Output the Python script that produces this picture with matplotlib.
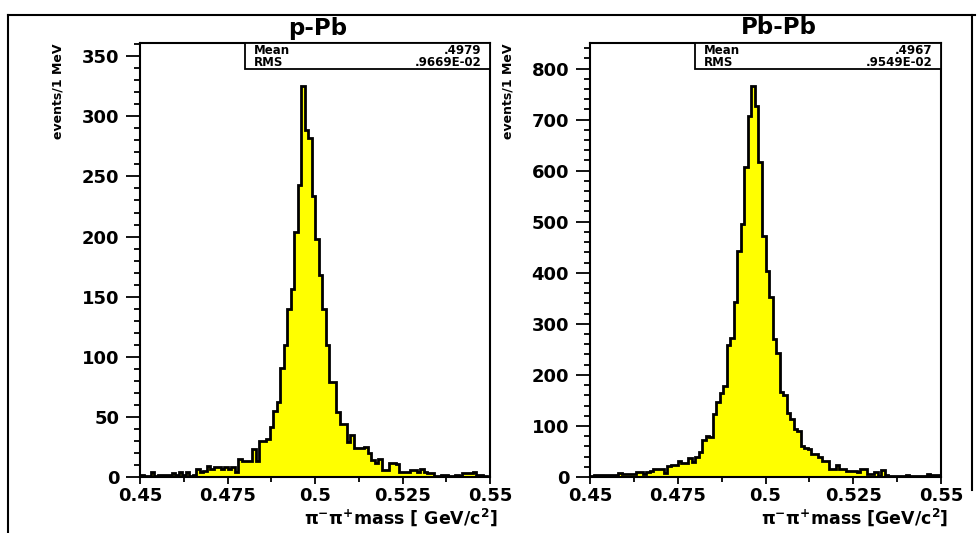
import numpy as np
import matplotlib.pyplot as plt
from matplotlib.ticker import MultipleLocator, FixedLocator, FixedFormatter
from matplotlib.patches import Rectangle
from matplotlib.lines import Line2D


#----- Datos -----

masa_min = 0.45
masa_max = 0.55
num_bins = 100   # 1 MeV por bin

cuentas_pPb = [
    2, 1, 1, 4, 1, 2, 2, 2, 2, 3,
    2, 4, 2, 4, 1, 2, 7, 4, 5, 9,
    7, 8, 8, 7, 8, 7, 8, 4, 15, 13,
    13, 13, 23, 13, 30, 30, 32, 42, 55, 62,
    91, 110, 140, 156, 204, 243, 325, 289, 282, 234,
    198, 168, 140, 110, 79, 79, 54, 44, 44, 29,
    35, 24, 24, 24, 25, 20, 14, 12, 15, 6,
    6, 12, 12, 11, 4, 4, 4, 6, 6, 4,
    7, 4, 3, 3, 1, 1, 2, 2, 1, 1,
    2, 1, 3, 3, 3, 4, 2, 2, 1, 0,
]

cuentas_PbPb = [
    1, 4, 4, 4, 3, 4, 4, 4, 7, 5,
    5, 5, 5, 10, 10, 6, 10, 12, 16, 15,
    15, 7, 22, 24, 24, 31, 28, 28, 37, 30,
    39, 49, 73, 80, 79, 123, 146, 164, 179, 259,
    272, 342, 443, 496, 608, 707, 766, 726, 617, 472,
    403, 352, 270, 243, 166, 160, 125, 113, 94, 90,
    61, 57, 55, 46, 46, 40, 31, 31, 15, 15,
    23, 15, 15, 12, 12, 11, 10, 15, 15, 6,
    6, 10, 2, 14, 4, 2, 2, 2, 2, 2,
    4, 2, 2, 2, 2, 2, 6, 4, 4, 4,
]

titulos = ['p-Pb', 'Pb-Pb']
medias = ['.4979', '.4967']
valores_rms = ['.9669E-02', '.9549E-02']
etiquetas_x = [r'$\pi^{-}\pi^{+}$mass [ GeV/c$^{2}$]', r'$\pi^{-}\pi^{+}$mass [GeV/c$^{2}$]']
etiqueta_y = 'events/1 MeV'
ticks_x = [0.45, 0.475, 0.5, 0.525, 0.55]
textos_ticks_x = ['0.45', '0.475', '0.5', '0.525', '0.55']
limites_y = [361, 850]
pasos_y = [(50, 10), (100, 20)]


#----- Estilo -----

plt.rcParams['font.family'] = 'DejaVu Sans'
plt.rcParams['font.weight'] = 'bold'
plt.rcParams['mathtext.default'] = 'bf'


#----- Panel -----

def graficar_panel(ax, cuentas, titulo, media, rms, etiqueta_x, y_max, pasos):
    bordes = np.linspace(masa_min, masa_max, num_bins + 1)
    ax.stairs(cuentas, bordes, fill=True, color='#ffff00', zorder=2)
    ax.stairs(cuentas, bordes, color='black', linewidth=2.0, zorder=3)

    ax.set_xlim(masa_min, masa_max)
    ax.set_ylim(0, y_max)

    # ejes
    for lado in ['left', 'right', 'top', 'bottom']:
        ax.spines[lado].set_linewidth(1.5)
        ax.spines[lado].set_zorder(5)

    ax.xaxis.set_major_locator(FixedLocator(ticks_x))
    ax.xaxis.set_major_formatter(FixedFormatter(textos_ticks_x))
    ax.xaxis.set_minor_locator(MultipleLocator(0.0125))
    ax.yaxis.set_major_locator(MultipleLocator(pasos[0]))
    ax.yaxis.set_minor_locator(MultipleLocator(pasos[1]))

    ax.tick_params(axis='x', which='major', direction='out', length=5, width=1.3,
                   labelsize=13, pad=2)
    ax.tick_params(axis='x', which='minor', direction='out', length=3.5, width=1.3)
    ax.tick_params(axis='y', which='major', direction='out', length=10, width=1.3,
                   labelsize=13, pad=5)
    ax.tick_params(axis='y', which='minor', direction='out', length=4.5, width=1.3)

    # caja de estadisticas
    caja = Rectangle((0.3, 0.94), 0.7, 0.06, transform=ax.transAxes,
                     facecolor='white', edgecolor='black', linewidth=1.3, zorder=6)
    ax.add_patch(caja)
    ax.text(0.325, 0.982, 'Mean', transform=ax.transAxes, fontsize=8.5,
            ha='left', va='center', zorder=7)
    ax.text(0.325, 0.956, 'RMS', transform=ax.transAxes, fontsize=8.5,
            ha='left', va='center', zorder=7)
    ax.text(0.975, 0.982, media, transform=ax.transAxes, fontsize=8.5,
            ha='right', va='center', zorder=7)
    ax.text(0.975, 0.956, rms, transform=ax.transAxes, fontsize=8.5,
            ha='right', va='center', zorder=7)

    # etiquetas
    ax.text(1.02, -0.108, etiqueta_x, transform=ax.transAxes, fontsize=12.5,
            ha='right', va='baseline')
    ax.text(-0.235, 1.0, etiqueta_y, transform=ax.transAxes, fontsize=9,
            rotation=90, ha='center', va='top')


#----- Figura -----

fig = plt.figure(figsize=(9.8, 5.33), dpi=100)
ax1 = fig.add_axes([140 / 980, 1 - 477 / 533, 350 / 980, 434 / 533])
ax2 = fig.add_axes([590 / 980, 1 - 477 / 533, 351 / 980, 434 / 533])

graficar_panel(ax1, cuentas_pPb, titulos[0], medias[0], valores_rms[0],
               etiquetas_x[0], limites_y[0], pasos_y[0])
graficar_panel(ax2, cuentas_PbPb, titulos[1], medias[1], valores_rms[1],
               etiquetas_x[1], limites_y[1], pasos_y[1])

# titulos sobre cada panel
fig.text(318 / 980, 1 - 28 / 533, titulos[0], fontsize=16.5, ha='center', va='center')
fig.text(779 / 980, 1 - 28 / 533, titulos[1], fontsize=16.5, ha='center', va='center')

# marco exterior
fig.add_artist(Line2D([8 / 980, 975 / 980], [1 - 15 / 533, 1 - 15 / 533],
                      transform=fig.transFigure, color='black', linewidth=1.5))
fig.add_artist(Line2D([8 / 980, 8 / 980], [1 - 15 / 533, 0],
                      transform=fig.transFigure, color='black', linewidth=1.5))
fig.add_artist(Line2D([972 / 980, 972 / 980], [1 - 15 / 533, 1 - 490 / 533],
                      transform=fig.transFigure, color='black', linewidth=1.5))

fig.savefig('out.png', dpi=100)
